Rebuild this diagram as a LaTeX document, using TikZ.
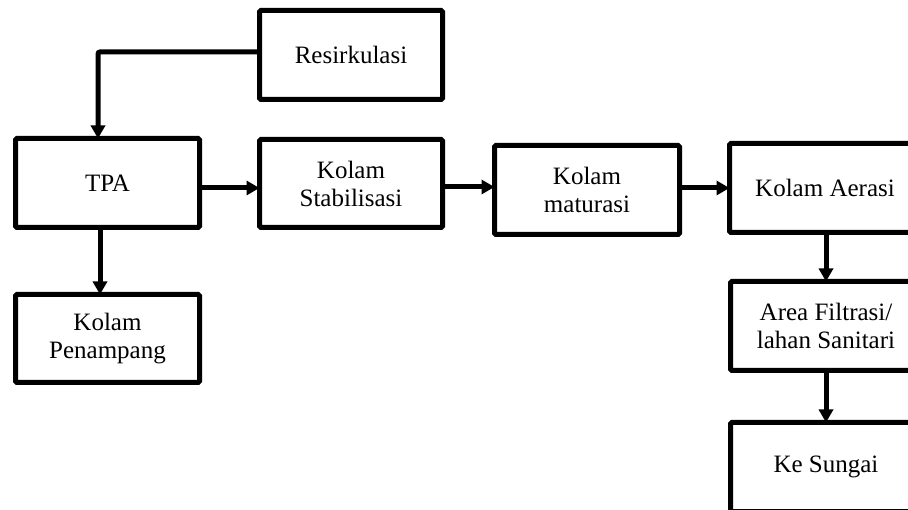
\documentclass[tikz,border=0pt]{standalone}
\usepackage{fontspec}
\setmainfont{Liberation Serif}
\usetikzlibrary{arrows.meta}
\begin{document}
\begin{tikzpicture}[x=1pt,y=-1pt,
  box/.style={draw=black,line width=5pt,rounded corners=1.5pt,fill=white,
    minimum width=183pt,minimum height=89pt,inner sep=0pt,outer sep=0pt,
    align=center,font=\fontsize{25}{28}\selectfont},
  rbox/.style={box,minimum width=191pt},
  conn/.style={line width=5pt,-{Triangle[length=13pt,width=14pt]}}]
\useasboundingbox (0,0) rectangle (908,510);
\clip (0,0) rectangle (908,510);
\fill[white] (0,0) rectangle (908,510);
\node[box] (res) at (351,55) {Resirkulasi};
\node[box,minimum width=184pt] (tpa) at (107.5,183) {TPA};
\node[box,minimum height=88pt] (stab) at (351,183.5) {Kolam\\Stabilisasi};
\node[box,minimum width=185pt] (mat) at (587,190) {Kolam\\maturasi};
\node[rbox] (aer) at (825,188) {Kolam Aerasi};
\node[box,minimum width=184pt,minimum height=88pt] (pen) at (107.5,338.5) {Kolam\\Penampang};
\node[rbox] (area) at (826,326) {Area Filtrasi/\\lahan Sanitari};
\node[rbox] (sun) at (826,467) {Ke Sungai};
\coordinate (r1) at (98,52);
\draw[conn,rounded corners=2pt] (res.west |- r1) -| (tpa.north -| r1);
\draw[conn] (tpa.east |- 0,188) -- (stab.west |- 0,188);
\draw[conn] (stab.east |- 0,187) -- (mat.west |- 0,187);
\draw[conn] (mat.east |- 0,188) -- (aer.west |- 0,188);
\draw[conn] (tpa.south -| 100,0) -- (pen.north -| 100,0);
\draw[conn] (aer.south -| 826,0) -- (area.north -| 826,0);
\draw[conn] (area.south -| 826,0) -- (sun.north -| 826,0);
\end{tikzpicture}
\end{document}
